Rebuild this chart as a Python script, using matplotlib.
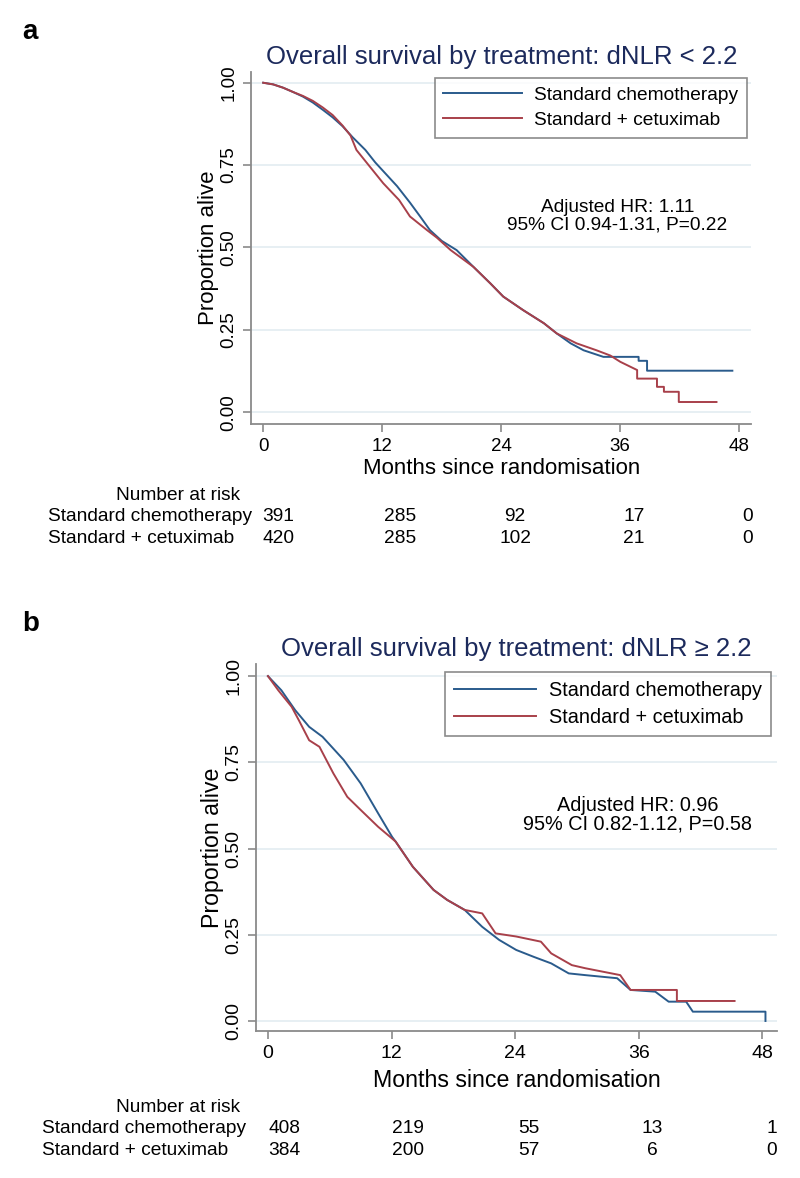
import matplotlib
matplotlib.use('Agg')
import matplotlib.pyplot as plt
import matplotlib.transforms as mtransforms

plt.rcParams['font.family'] = ['Liberation Sans', 'DejaVu Sans']

# ---- data ----
months_ticks = [0, 12, 24, 36, 48]
prop_ticks = [0.0, 0.25, 0.5, 0.75, 1.0]
groups = ['Standard chemotherapy', 'Standard + cetuximab']

# panel a: dNLR < 2.2
a_chemo_t = [0, 1, 2, 3, 4, 5, 6, 7, 8, 9, 10.3, 11.3, 12.4, 13.5, 14.8, 15.8, 16.8, 18, 19.5,
             21.2, 22.9, 24.2, 26.2, 28.3, 29.6, 31, 32.3, 34.3, 37.85, 37.85, 38.7, 38.7, 47.3]
a_chemo_s = [1.0, .995, .985, .972, .958, .94, .918, .895, .868, .835, .796, .758, .722, .686, .636,
             .595, .553, .52, .492, .441, .391, .351, .31, .27, .239, .209, .188, .168, .168, .156,
             .156, .126, .126]
a_cetux_t = [0, 1, 2, 3, 4, 5, 6, 7, 8, 8.8, 9.4, 10.6, 12.1, 13.7, 14.8, 16.5, 17.5, 18.9, 21.2,
             22.9, 24.2, 26.2, 28.3, 29.6, 31.6, 33.6, 35, 36, 37.7, 37.7, 39.7, 39.7, 40.4, 40.4,
             41.9, 41.9, 45.7]
a_cetux_s = [1.0, .995, .985, .972, .96, .945, .925, .902, .87, .84, .796, .751, .695, .644, .594,
             .553, .53, .492, .441, .391, .351, .31, .27, .239, .209, .188, .172, .153, .128, .102,
             .102, .077, .077, .062, .062, .031, .031]
a_risk_chemo = [391, 285, 92, 17, 0]
a_risk_cetux = [420, 285, 102, 21, 0]

# panel b: dNLR >= 2.2
b_chemo_t = [0, 1.3, 2.65, 4.0, 5.3, 7.35, 9.0, 10.7, 12.05, 12.4, 14.07, 16.08, 17.4, 19.1,
             20.8, 22.45, 24.1, 25.8, 27.5, 29.2, 30.8, 33.9, 35.2, 37.6, 38.9, 40.6, 41.25, 48.3,
             48.3]
b_chemo_s = [1.0, .959, .901, .853, .824, .757, .689, .602, .534, .52, .447, .38, .351, .322,
             .273, .235, .206, .186, .167, .138, .133, .124, .09, .085, .056, .056, .027, .027, 0.0]
b_cetux_t = [0, 1.0, 2.3, 3.0, 4.0, 5.0, 6.35, 7.7, 9.0, 10.7, 12.05, 12.4, 14.07, 16.08, 17.4,
             19.1, 20.8, 22.1, 24.1, 26.5, 27.5, 29.5, 30.8, 34.2, 35.2, 39.7, 39.7, 45.3]
b_cetux_s = [1.0, .959, .911, .872, .814, .795, .718, .65, .612, .563, .529, .52, .447, .38, .351,
             .322, .312, .254, .245, .23, .196, .162, .153, .133, .09, .09, .058, .058]
b_risk_chemo = [408, 219, 55, 13, 1]
b_risk_cetux = [384, 200, 57, 6, 0]

blue = '#2a5b8c'
red = '#a8404a'
navy = '#1c2a5c'
grid_col = '#e3ecf1'
spine_col = '#8a8a8a'

fig = plt.figure(figsize=(8, 11.78), dpi=100)


def draw_panel(rect, label, title, chemo_t, chemo_s, cetux_t, cetux_s, hr_text, risk1, risk2,
               xlim, ylim, leg_anchor, hr_pos, table_y, risk_dx, lab_x, xlab_pad, k):
    ax = fig.add_axes(rect)
    ax.plot(chemo_t, chemo_s, color=blue, lw=1.4, label=groups[0])
    ax.plot(cetux_t, cetux_s, color=red, lw=1.4, label=groups[1])
    ax.set_xlim(*xlim)
    ax.set_ylim(*ylim)
    ax.set_xticks(months_ticks)
    ax.set_yticks(prop_ticks)
    ax.set_yticklabels(['%.2f' % v for v in prop_ticks], rotation=90, va='center')
    ax.tick_params(labelsize=13.5 * k, length=6, color=spine_col, width=1.2, pad=4)
    ax.grid(axis='y', color=grid_col, lw=1.2)
    ax.set_axisbelow(True)
    for s in ['top', 'right']:
        ax.spines[s].set_visible(False)
    for s in ['left', 'bottom']:
        ax.spines[s].set_color(spine_col)
        ax.spines[s].set_linewidth(1.3)
    ax.set_xlabel('Months since randomisation', fontsize=16 * k, labelpad=xlab_pad)
    ax.set_ylabel('Proportion alive', fontsize=16 * k, labelpad=1)
    ax.set_title(title, fontsize=18.5, color=navy, pad=6)
    leg = ax.legend(loc='upper right', bbox_to_anchor=leg_anchor, fontsize=13.8 * k,
                    frameon=True, fancybox=False, borderaxespad=0, handlelength=4.1,
                    handletextpad=0.65, borderpad=0.45, labelspacing=0.4)
    leg.get_frame().set_edgecolor('#6e6e6e')
    leg.get_frame().set_linewidth(1.2)
    ax.text(hr_pos[0], hr_pos[1], hr_text, transform=ax.transAxes, ha='center', va='center',
            fontsize=13.8 * k, linespacing=1.0)

    # number at risk table
    fig.text(0.222, table_y, 'Number at risk', ha='center', va='center', fontsize=13.8)
    trans = mtransforms.blended_transform_factory(ax.transData, fig.transFigure)
    for row, (name, vals) in enumerate(zip(groups, [risk1, risk2])):
        yy = table_y - 0.0185 * (row + 1)
        fig.text(lab_x, yy, name, ha='left', va='center', fontsize=13.8)
        for m, v, dx in zip(months_ticks, vals, risk_dx):
            ax.text(m + dx, yy, str(v), transform=trans, ha='center', va='center',
                    fontsize=13.8, clip_on=False)
    fig.text(0.028, rect[1] + rect[3] + 0.034, label, fontsize=20, fontweight='bold',
             ha='left', va='center')
    return ax


draw_panel([0.314, 0.640, 0.625, 0.299], 'a',
           'Overall survival by treatment: dNLR < 2.2',
           a_chemo_t, a_chemo_s, a_cetux_t, a_cetux_s,
           'Adjusted HR: 1.11\n95% CI 0.94-1.31, P=0.22',
           a_risk_chemo, a_risk_cetux, (-1.21, 49.2), (-0.036, 1.033),
           (0.992, 0.983), (0.732, 0.59), 1 - 495 / 1178, [1.5, 1.8, 1.4, 1.4, 0.8], 0.060, 2,
           1.0)

draw_panel([0.320, 0.1248, 0.651, 0.3115], 'b',
           'Overall survival by treatment: dNLR \u2265 2.2',
           b_chemo_t, b_chemo_s, b_cetux_t, b_cetux_s,
           'Adjusted HR: 0.96\n95% CI 0.82-1.12, P=0.58',
           b_risk_chemo, b_risk_cetux, (-1.16, 49.4), (-0.029, 1.035),
           (0.988, 0.978), (0.733, 0.589), 1 - 1107 / 1178, [1.6, 1.6, 1.3, 1.3, 0.9], 0.052, 5,
           1.04)

fig.savefig('out.png', dpi=100)
